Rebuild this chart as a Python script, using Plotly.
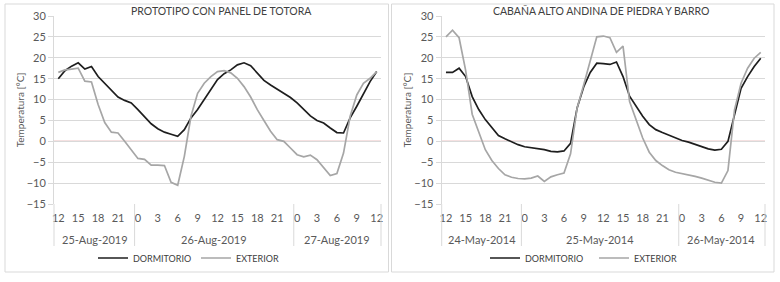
import plotly.graph_objects as go

# ---------------- data ----------------
hours = list(range(49))  # hourly readings, 12:00 day 1 -> 12:00 day 3
hour_ticks = [0, 3, 6, 9, 12, 15, 18, 21, 24, 27, 30, 33, 36, 39, 42, 45, 48]
hour_labels = ["12", "15", "18", "21", "0", "3", "6", "9", "12", "15", "18", "21", "0", "3", "6", "9", "12"]

left_title = "PROTOTIPO CON PANEL DE TOTORA"
left_days = ["25-Aug-2019", "26-Aug-2019", "27-Aug-2019"]
left_dormitorio = [15.0, 16.9, 18.0, 18.8, 17.3, 17.9, 15.5, 13.8, 12.3, 10.6, 9.8, 9.2,
                   7.6, 5.8, 4.2, 3.0, 2.2, 1.7, 1.2, 2.8, 5.6, 7.6, 10.0, 12.5,
                   14.8, 16.2, 17.1, 18.3, 18.8, 18.1, 16.3, 14.6, 13.5, 12.5, 11.5, 10.5,
                   9.2, 7.6, 6.1, 5.0, 4.4, 3.2, 2.1, 2.0, 5.6, 8.4, 11.5, 14.3, 16.7]
left_exterior = [16.5, 17.1, 17.3, 17.5, 14.4, 14.2, 8.8, 4.5, 2.2, 2.0, 0.0, -2.0,
                 -4.1, -4.3, -5.7, -5.7, -5.8, -9.8, -10.5, -3.6, 6.0, 11.5, 13.9, 15.5,
                 16.7, 16.9, 16.4, 15.1, 13.1, 10.6, 7.6, 5.0, 2.4, 0.4, 0.0, -1.6,
                 -3.2, -3.7, -3.3, -4.4, -6.4, -8.2, -7.7, -2.8, 6.0, 11.1, 13.9, 15.1, 16.7]

right_title = "CABAÑA ALTO ANDINA DE PIEDRA Y BARRO"
right_days = ["24-May-2014", "25-May-2014", "26-May-2014"]
right_dormitorio = [16.5, 16.5, 17.5, 15.5, 10.7, 7.6, 5.2, 3.2, 1.4, 0.6, -0.2, -0.8,
                    -1.3, -1.5, -1.7, -2.0, -2.4, -2.5, -2.3, -0.5, 8.0, 13.0, 16.5, 18.7,
                    18.6, 18.4, 19.0, 15.5, 10.8, 8.4, 6.0, 4.0, 2.8, 2.1, 1.4, 0.8,
                    0.2, -0.2, -0.7, -1.2, -1.8, -2.1, -1.9, 0.0, 6.5, 12.7, 15.5, 17.9, 19.9]
right_exterior = [25.0, 26.6, 24.8, 17.0, 6.5, 2.0, -2.0, -4.6, -6.5, -8.0, -8.6, -8.9,
                  -9.0, -8.8, -8.3, -9.6, -8.5, -8.0, -7.6, -3.0, 8.0, 13.5, 19.0, 25.0,
                  25.2, 24.8, 21.3, 22.8, 9.5, 5.2, 0.8, -2.6, -4.6, -5.8, -6.8, -7.4,
                  -7.7, -8.0, -8.4, -8.8, -9.3, -9.8, -10.0, -7.0, 7.5, 13.9, 17.5, 19.9, 21.3]

y_ticks = [-15, -10, -5, 0, 5, 10, 15, 20, 25, 30]
day_centers = [5.5, 23.5, 42.0]
day_breaks = [11.5, 35.5]

# ---------------- style ----------------
FONT = "Lato"
TXT = "#595959"
GRID = "#d9d9d9"
BLACK = "#1e1e1e"
GRAY = "#a6a6a6"
ZERO = "#c0504d"
W, H = 780, 282
ML, MR, MT, MB = 54, 15, 16, 78
PW = W - ML - MR
PH = H - MT - MB


def px_x(p):
    return (p - ML) / PW


def px_y(p):
    return (H - MB - p) / PH


fig = go.Figure()

panels = [
    ("x", "y", "legend", left_dormitorio, left_exterior),
    ("x2", "y2", "legend2", right_dormitorio, right_exterior),
]
for xa, ya, lg, dorm, ext in panels:
    fig.add_trace(go.Scatter(x=hours, y=dorm, name="DORMITORIO", mode="lines",
                             line=dict(color=BLACK, width=1.7), xaxis=xa, yaxis=ya, legend=lg))
    fig.add_trace(go.Scatter(x=hours, y=ext, name="EXTERIOR", mode="lines",
                             line=dict(color=GRAY, width=1.7), xaxis=xa, yaxis=ya, legend=lg))

xdom_left = [0, px_x(381)]
xdom_right = [px_x(441.7), 1]

xcommon = dict(range=[-0.65, 48.65], tickmode="array", tickvals=hour_ticks, ticktext=hour_labels,
               showgrid=False, zeroline=False, showline=False, ticks="", ticklabelstandoff=6,
               tickfont=dict(family=FONT, size=11, color=TXT), fixedrange=True)
ycommon = dict(range=[-15, 30], tickmode="array", tickvals=y_ticks,
               showgrid=True, gridcolor=GRID, gridwidth=1, zeroline=False,
               showline=True, linecolor=GRID, linewidth=1,
               ticks="outside", ticklen=5, tickcolor=GRID,
               tickfont=dict(family=FONT, size=11, color=TXT),
               title=dict(text="Temperatura [°C]", font=dict(family=FONT, size=10, color=TXT), standoff=0),
               fixedrange=True)

fig.update_layout(
    width=W, height=H,
    margin=dict(l=ML, r=MR, t=MT, b=MB, autoexpand=False),
    paper_bgcolor="white", plot_bgcolor="white",
    font=dict(family=FONT, size=10, color=TXT),
    xaxis=dict(domain=xdom_left, anchor="y", **xcommon),
    yaxis=dict(anchor="x", **ycommon),
    xaxis2=dict(domain=xdom_right, anchor="y2", **xcommon),
    yaxis2=dict(anchor="x2", **ycommon),
    legend=dict(orientation="h", x=px_x(196), xanchor="center", y=px_y(258), yanchor="middle",
                font=dict(family=FONT, size=9, color="#404040"), itemwidth=30,
                bgcolor="rgba(0,0,0,0)", entrywidth=58),
    legend2=dict(orientation="h", x=px_x(594), xanchor="center", y=px_y(258), yanchor="middle",
                 font=dict(family=FONT, size=9, color="#404040"), itemwidth=30,
                 bgcolor="rgba(0,0,0,0)", entrywidth=64),
    showlegend=True,
)

shapes = []
annotations = []
for xa, title, days, tcx in [("x", left_title, left_days, 221.7), ("x2", right_title, right_days, 601)]:
    # zero reference line
    shapes.append(dict(type="line", xref=xa + " domain", yref=xa.replace("x", "y"), x0=0, x1=1, y0=0, y1=0,
                       line=dict(color=ZERO, width=1), layer="below"))
    # day group separators below the axis
    for b in day_breaks:
        shapes.append(dict(type="line", xref=xa, yref="paper", x0=b, x1=b, y0=0, y1=px_y(246),
                           line=dict(color=GRID, width=1)))
    for d in (0, 1):
        shapes.append(dict(type="line", xref=xa + " domain", yref="paper", x0=d, x1=d, y0=0, y1=px_y(246),
                           line=dict(color=GRID, width=1)))
    for c, lab in zip(day_centers, days):
        annotations.append(dict(text=lab, xref=xa, yref="paper", x=c, y=px_y(239),
                                showarrow=False, xanchor="center", yanchor="middle",
                                font=dict(family=FONT, size=11, color=TXT)))
    annotations.append(dict(text=title, xref="paper", yref="paper", x=px_x(tcx), y=px_y(11),
                            showarrow=False, xanchor="center", yanchor="middle",
                            font=dict(family=FONT, size=10.5, color="#404040")))

# chart frames
for x0, x1 in [(5, 388.5), (391.5, 774)]:
    shapes.append(dict(type="rect", xref="paper", yref="paper", x0=px_x(x0), x1=px_x(x1),
                       y0=px_y(272), y1=px_y(4), line=dict(color=GRID, width=1), layer="below"))

fig.update_layout(shapes=shapes, annotations=annotations)

fig.write_html("out.html", config={"displayModeBar": False},
               post_script="document.body.style.margin='0';document.body.style.overflow='hidden';")
